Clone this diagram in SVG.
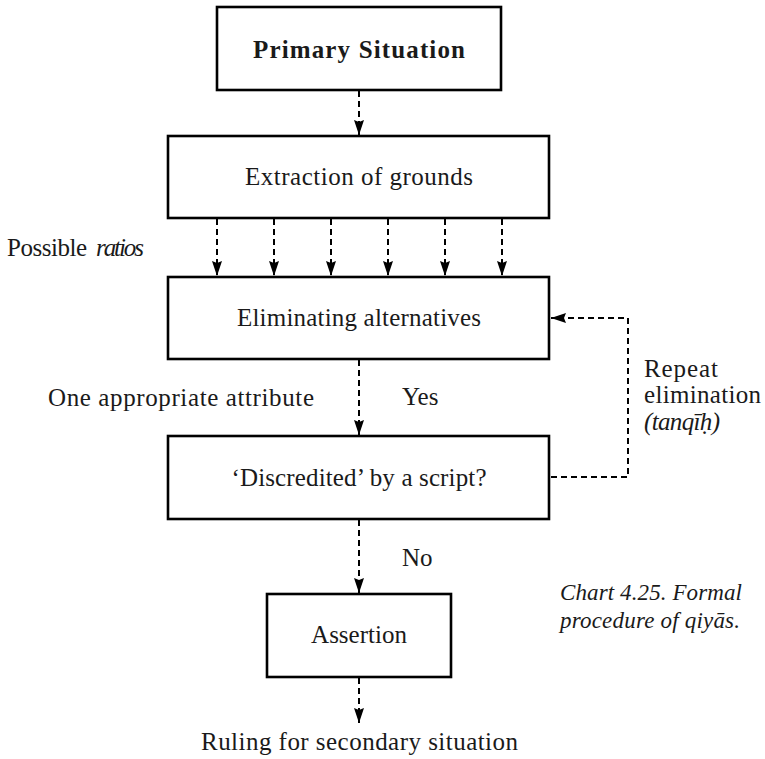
<svg xmlns="http://www.w3.org/2000/svg" width="765" height="759" viewBox="0 0 765 759">
  <style>
    .box { fill: #ffffff; stroke: #000000; stroke-width: 2.6; }
    .conn { fill: none; stroke: #000000; stroke-width: 2; stroke-dasharray: 6 4; }
  </style>
  <defs>
    <marker id="arr" markerUnits="userSpaceOnUse" markerWidth="16" markerHeight="12" refX="15" refY="6" orient="auto">
      <path d="M0,1 L15,6 L0,11 L2,6 z" fill="#000000" stroke="none"/>
    </marker>
  </defs>

  <rect width="765" height="759" fill="#ffffff"/>

  <g id="connectors">
    <path class="conn" d="M359,91 V135" marker-end="url(#arr)"/>
    <path class="conn" d="M217,219 V276" marker-end="url(#arr)"/>
    <path class="conn" d="M274,219 V276" marker-end="url(#arr)"/>
    <path class="conn" d="M331,219 V276" marker-end="url(#arr)"/>
    <path class="conn" d="M388,219 V276" marker-end="url(#arr)"/>
    <path class="conn" d="M445,219 V276" marker-end="url(#arr)"/>
    <path class="conn" d="M502,219 V276" marker-end="url(#arr)"/>
    <path class="conn" d="M359,360 V435" marker-end="url(#arr)"/>
    <path class="conn" d="M551,477 H628 V318 H551" marker-end="url(#arr)"/>
    <path class="conn" d="M359,520 V593" marker-end="url(#arr)"/>
    <path class="conn" d="M359,678 V723" marker-end="url(#arr)"/>
  </g>

  <g font-family="Liberation Serif" font-size="25" fill="#1a1a1a">
    <g id="primary">
      <rect class="box" x="217" y="7" width="284" height="83"/>
      <text x="359" y="58" text-anchor="middle" font-weight="bold" textLength="212">Primary Situation</text>
    </g>
    <g id="extraction">
      <rect class="box" x="168" y="136" width="381" height="82"/>
      <text x="359" y="185" text-anchor="middle" textLength="228">Extraction of grounds</text>
    </g>
    <g id="eliminating">
      <rect class="box" x="168" y="277" width="381" height="82"/>
      <text x="359" y="326" text-anchor="middle" textLength="244">Eliminating alternatives</text>
    </g>
    <g id="discredited">
      <rect class="box" x="168" y="436" width="381" height="83"/>
      <text x="359" y="486" text-anchor="middle" textLength="255">‘Discredited’ by a script?</text>
    </g>
    <g id="assertion">
      <rect class="box" x="267" y="594" width="184" height="83"/>
      <text x="359" y="643" text-anchor="middle">Assertion</text>
    </g>

    <g id="labels">
      <text x="7" y="256" textLength="80">Possible</text>
      <text x="96" y="256" font-style="italic" textLength="48">ratios</text>
      <text x="48" y="406" textLength="266">One appropriate attribute</text>
      <text x="402" y="405">Yes</text>
      <text x="402" y="566">No</text>
      <text x="644" y="377" textLength="74">Repeat</text>
      <text x="644" y="403" textLength="117">elimination</text>
      <text x="644" y="430" font-style="italic" textLength="76">(tanqīḥ)</text>
      <text x="560" y="600" font-style="italic" font-size="23" textLength="182">Chart 4.25. Formal</text>
      <text x="560" y="628" font-style="italic" font-size="23" textLength="180">procedure of qiyās.</text>
      <text x="359.5" y="750" text-anchor="middle" textLength="317">Ruling for secondary situation</text>
    </g>
  </g>
</svg>
